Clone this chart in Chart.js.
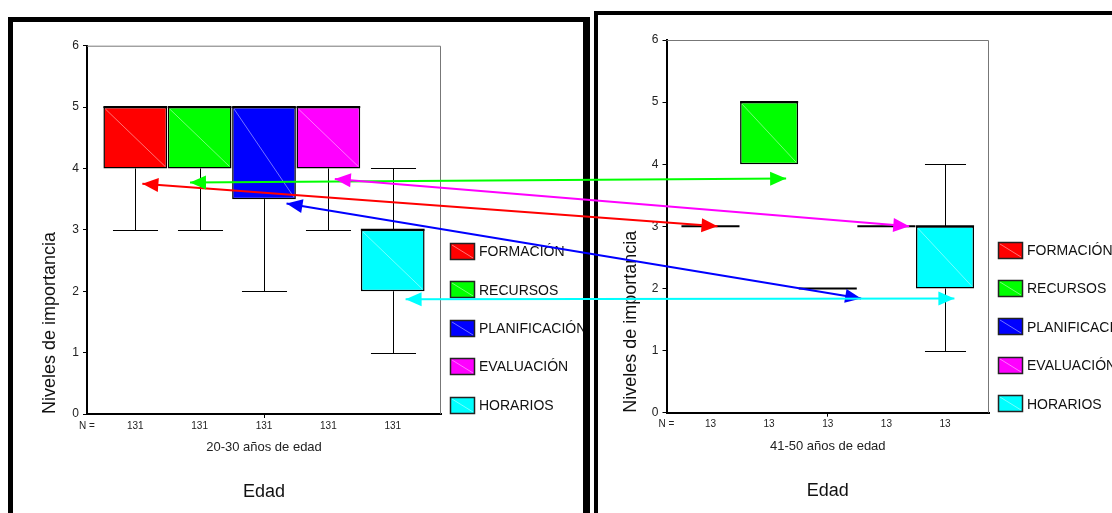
<!DOCTYPE html>
<html>
<head>
<meta charset="utf-8">
<script src="https://cdn.jsdelivr.net/npm/chart.js@4.4.1/dist/chart.umd.min.js"></script>
<style>
  html, body { margin: 0; padding: 0; background: #fff; width: 1112px; height: 513px; overflow: hidden; }
  .panel { position: absolute; border: 0 solid #000; background: #fff; overflow: hidden; }
  #panelYoung { left: 8px; top: 17px; width: 570px; height: 600px; border-left-width: 5px; border-top-width: 5px; border-right-width: 7px; }
  #panelOld { left: 594px; top: 11px; width: 600px; height: 600px; border-left-width: 4px; border-top-width: 4px; }
  .panel canvas { position: absolute; left: 0; top: 0; }
  #arrows { position: absolute; left: 0; top: 0; z-index: 5; pointer-events: none; }
</style>
</head>
<body>
<div class="panel" id="panelYoung"><canvas id="chartYoung" width="570" height="491"></canvas></div>
<div class="panel" id="panelOld"><canvas id="chartOld" width="514" height="498"></canvas></div>
<canvas id="arrows" width="1112" height="513"></canvas>
<script>
/* ---------- Boxplots: niveles de importancia por grupo de edad ---------- */

var categories = ["FORMACIÓN", "RECURSOS", "PLANIFICACIÓN", "EVALUACIÓN", "HORARIOS"];
var boxColors = ["#ff0000", "#00ff00", "#0000ff", "#ff00ff", "#00ffff"];
var yTicks = [0, 1, 2, 3, 4, 5, 6];
var xMin = 0.25, xMax = 5.75;
var xTickValues = [0.25, 1, 2, 3, 4, 5];   // first one carries the "N =" label

// 20-30 años de edad
var youngMin = [3, 3, 2, 3, 1];
var youngQ1 = [4, 4, 3.5, 4, 2];
var youngMedian = [5, 5, 5, 5, 3];
var youngQ3 = [5, 5, 5, 5, 3];
var youngMax = [5, 5, 5, 5, 4];
var youngN = [131, 131, 131, 131, 131];

// 41-50 años de edad
var oldMin = [3, 4, 2, 3, 1];
var oldQ1 = [3, 4, 2, 3, 2];
var oldMedian = [3, 5, 2, 3, 3];
var oldQ3 = [3, 5, 2, 3, 3];
var oldMax = [3, 5, 2, 3, 4];
var oldN = [13, 13, 13, 13, 13];

// arrows between the two charts (x = category position, y = level)
var arrowYoungX = [1.11, 1.85, 3.35, 4.10, 5.20];
var arrowYoungY = [3.75, 3.77, 3.43, 3.83, 1.87];
var arrowOldX = [1.12, 2.29, 3.57, 4.39, 5.16];
var arrowOldY = [3.0, 3.77, 1.84, 3.0, 1.84];

Chart.defaults.font.family = "'Liberation Sans', Arial, sans-serif";

/* whiskers, medians, the light diagonal in every box and the grey plot frame */
var boxplotExtras = {
  id: "boxplotExtras",
  afterDatasetsDraw: function(chart, args, opts) {
    var ctx = chart.ctx, xs = chart.scales.x, ys = chart.scales.y, area = chart.chartArea;
    ctx.save();
    ctx.strokeStyle = "#777";
    ctx.lineWidth = 1;
    ctx.beginPath();
    ctx.moveTo(area.left, area.top + 0.5);
    ctx.lineTo(area.right - 0.5, area.top + 0.5);
    ctx.lineTo(area.right - 0.5, area.bottom);
    ctx.stroke();

    var cap = xs.getPixelForValue(1 + opts.capWidth / 2) - xs.getPixelForValue(1);
    chart.data.datasets.forEach(function(ds, i) {
      var bar = chart.getDatasetMeta(i).data[0];
      var cx = Math.round(bar.x) + 0.5;
      var half = bar.width / 2;
      var top = Math.min(bar.y, bar.base), bottom = Math.max(bar.y, bar.base);
      if (bottom - top > 3) {
        ctx.strokeStyle = "rgba(255,255,255,0.45)";
        ctx.lineWidth = 1;
        ctx.beginPath();
        ctx.moveTo(bar.x - half + 2, top + 2);
        ctx.lineTo(bar.x + half - 2, bottom - 2);
        ctx.stroke();
      }
      var yLo = ys.getPixelForValue(opts.min[i]);
      var yHi = ys.getPixelForValue(opts.max[i]);
      ctx.strokeStyle = "#000";
      ctx.lineWidth = 1;
      ctx.beginPath();
      if (yLo > bottom + 1) {
        ctx.moveTo(cx, bottom); ctx.lineTo(cx, Math.round(yLo) + 0.5);
        ctx.moveTo(cx - cap, Math.round(yLo) + 0.5); ctx.lineTo(cx + cap, Math.round(yLo) + 0.5);
      }
      if (yHi < top - 1) {
        ctx.moveTo(cx, top); ctx.lineTo(cx, Math.round(yHi) + 0.5);
        ctx.moveTo(cx - cap, Math.round(yHi) + 0.5); ctx.lineTo(cx + cap, Math.round(yHi) + 0.5);
      }
      ctx.stroke();
      var yMed = ys.getPixelForValue(opts.median[i]);
      ctx.lineWidth = 2;
      ctx.beginPath();
      ctx.moveTo(bar.x - half, yMed);
      ctx.lineTo(bar.x + half, yMed);
      ctx.stroke();
    });
    ctx.restore();
  }
};

/* legend column to the right of the plot, bottom aligned */
var sideLegend = {
  id: "sideLegend",
  afterDraw: function(chart, args, opts) {
    var ctx = chart.ctx, area = chart.chartArea;
    var n = chart.data.datasets.length;
    ctx.save();
    ctx.font = "14px 'Liberation Sans', Arial, sans-serif";
    ctx.textBaseline = "middle";
    chart.data.datasets.forEach(function(ds, i) {
      var cy = area.bottom - opts.bottomOffset - (n - 1 - i) * opts.spacing;
      var bx = Math.round(area.right + opts.gap);
      var by = Math.round(cy - 8.5);
      ctx.fillStyle = ds.backgroundColor;
      ctx.fillRect(bx, by, 25, 17);
      ctx.strokeStyle = "rgba(255,255,255,0.45)";
      ctx.lineWidth = 1;
      ctx.beginPath();
      ctx.moveTo(bx + 2, by + 2);
      ctx.lineTo(bx + 23, by + 15);
      ctx.stroke();
      ctx.strokeStyle = "#222";
      ctx.lineWidth = 1.5;
      ctx.strokeRect(bx + 0.5, by + 0.5, 24, 16);
      ctx.fillStyle = "#111";
      ctx.fillText(ds.label, bx + 29, cy + 1);
    });
    ctx.restore();
  }
};

function makeChart(id, p) {
  return new Chart(id, {
    type: "bar",
    data: {
      datasets: categories.map(function(name, i) {
        return {
          label: name,
          data: [{x: i + 1, y: [p.q1[i], p.q3[i]]}],
          backgroundColor: boxColors[i],
          borderColor: "#000",
          borderWidth: 1.5,
          borderSkipped: false,
          grouped: false,
          categoryPercentage: 1,
          // bar size is taken from the smallest tick gap ("N =" -> first box)
          barPercentage: 0.99 / (1 - xMin)
        };
      })
    },
    options: {
      responsive: false,
      animation: false,
      layout: {padding: p.padding},
      scales: {
        x: {
          type: "linear",
          min: xMin,
          max: xMax,
          offset: false,
          afterBuildTicks: function(scale) {
            scale.ticks = xTickValues.map(function(v) { return {value: v}; });
          },
          ticks: {
            autoSkip: false,
            maxRotation: 0,
            padding: 2,
            color: "#222",
            font: {size: 10},
            callback: function(v, i) { return i === 0 ? "N =" : String(p.n[i - 1]); }
          },
          grid: {
            offset: false,
            drawOnChartArea: false,
            tickLength: 4,
            color: function(c) { return c.tick && c.tick.value === 3 ? "#000" : "rgba(0,0,0,0)"; }
          },
          border: {color: "#000", width: 2},
          title: {display: true, text: p.xTitle, color: "#222", font: {size: 13}, padding: {top: 6, bottom: 0}}
        },
        y: {
          min: 0,
          max: 6,
          afterFit: function(scale) { scale.width = p.yWidth; },
          afterBuildTicks: function(scale) {
            scale.ticks = yTicks.map(function(v) { return {value: v}; });
          },
          ticks: {padding: 4, color: "#222", font: {size: 12}},
          grid: {drawOnChartArea: false, tickLength: 4, color: "#000"},
          border: {color: "#000", width: 2},
          title: {display: true, text: "Niveles de importancia", align: "start", color: "#111",
                  font: {size: 18}, padding: {top: 6.2, bottom: 0}}
        }
      },
      plugins: {
        legend: {display: false},
        tooltip: {enabled: false},
        title: {display: true, text: "Edad", position: "bottom", fullSize: false, color: "#111",
                font: {size: 18, weight: "normal"}, padding: {top: 25.6, bottom: 0}},
        boxplotExtras: {min: p.min, max: p.max, median: p.median, capWidth: 0.7},
        sideLegend: {gap: 9, spacing: 38.4, bottomOffset: 9}
      }
    },
    plugins: [boxplotExtras, sideLegend]
  });
}

var youngChart = makeChart("chartYoung", {
  q1: youngQ1, q3: youngQ3, min: youngMin, max: youngMax, median: youngMedian, n: youngN,
  xTitle: "20-30 años de edad", yWidth: 54,
  padding: {left: 20, top: 23.7, right: 142, bottom: 10.2}
});

var oldChart = makeChart("chartOld", {
  q1: oldQ1, q3: oldQ3, min: oldMin, max: oldMax, median: oldMedian, n: oldN,
  xTitle: "41-50 años de edad", yWidth: 52.5,
  padding: {left: 16, top: 25, right: 123, bottom: 11.5}
});

/* ---------- double headed arrows joining the two charts ---------- */
function arrowHead(ctx, tx, ty, fx, fy) {
  var a = Math.atan2(ty - fy, tx - fx), len = 16, w = 7;
  ctx.beginPath();
  ctx.moveTo(tx, ty);
  ctx.lineTo(tx - len * Math.cos(a) + w * Math.sin(a), ty - len * Math.sin(a) - w * Math.cos(a));
  ctx.lineTo(tx - len * Math.cos(a) - w * Math.sin(a), ty - len * Math.sin(a) + w * Math.cos(a));
  ctx.closePath();
  ctx.fill();
}

function drawArrows(a, b) {
  var ctx = document.getElementById("arrows").getContext("2d");
  var ra = a.canvas.getBoundingClientRect(), rb = b.canvas.getBoundingClientRect();
  categories.forEach(function(name, i) {
    var x1 = ra.left + a.scales.x.getPixelForValue(arrowYoungX[i]);
    var y1 = ra.top + a.scales.y.getPixelForValue(arrowYoungY[i]);
    var x2 = rb.left + b.scales.x.getPixelForValue(arrowOldX[i]);
    var y2 = rb.top + b.scales.y.getPixelForValue(arrowOldY[i]);
    ctx.strokeStyle = boxColors[i];
    ctx.fillStyle = boxColors[i];
    ctx.lineWidth = 2;
    ctx.beginPath();
    ctx.moveTo(x1, y1);
    ctx.lineTo(x2, y2);
    ctx.stroke();
    arrowHead(ctx, x1, y1, x2, y2);
    arrowHead(ctx, x2, y2, x1, y1);
  });
}

drawArrows(youngChart, oldChart);
</script>
</body>
</html>
